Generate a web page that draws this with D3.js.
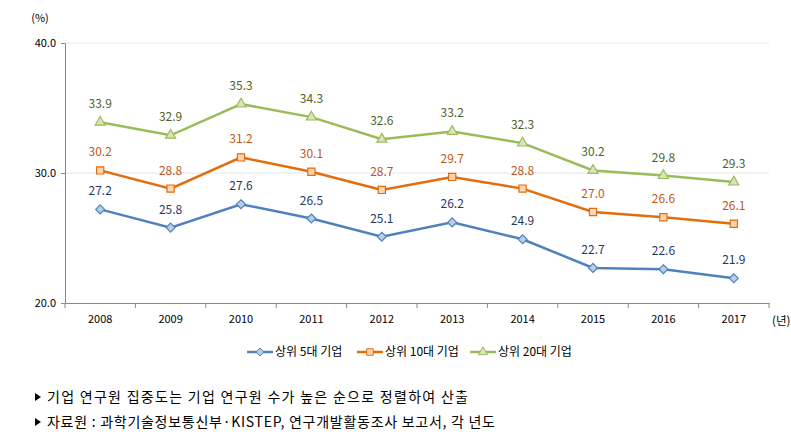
<!DOCTYPE html>
<html><head><meta charset="utf-8">
<script src="https://cdn.jsdelivr.net/npm/d3@7"></script>
<style>body{margin:0;background:#fff;} svg{display:block;font-family:"Noto Sans CJK KR","Malgun Gothic",sans-serif;}</style>
</head><body><svg id="c" width="791" height="447"></svg>
<script>
const years = ["2008","2009","2010","2011","2012","2013","2014","2015","2016","2017"];
const top5 = [27.2,25.8,27.6,26.5,25.1,26.2,24.9,22.7,22.6,21.9];
const top10 = [30.2,28.8,31.2,30.1,28.7,29.7,28.8,27.0,26.6,26.1];
const top20 = [33.9,32.9,35.3,34.3,32.6,33.2,32.3,30.2,29.8,29.3];
const seriesNames = ["상위 5대 기업","상위 10대 기업","상위 20대 기업"];
const yTicks = [20,30,40];
const notes = ["기업 연구원 집중도는 기업 연구원 수가 높은 순으로 정렬하여 산출","자료원 : 과학기술정보통신부·KISTEP, 연구개발활동조사 보고서, 각 년도"];

const svg = d3.select("#c");
const L=65,R=769,T=43,B=303;
const x = d3.scaleBand().domain(years).range([L,R]);
const y = d3.scaleLinear().domain([20,40]).range([B,T]);

// square diamond symbol
const squareDiamond = {draw(ctx,size){const r=Math.sqrt(size/2);ctx.moveTo(0,-r);ctx.lineTo(r,0);ctx.lineTo(0,r);ctx.lineTo(-r,0);ctx.closePath();}};

// grid
svg.append("g").selectAll("line").data(yTicks.slice(1)).join("line")
  .attr("x1",L).attr("x2",R).attr("y1",d=>y(d)).attr("y2",d=>y(d))
  .attr("stroke","#e6e6e6").attr("stroke-width",1);

const yAxis = svg.append("g").attr("transform",`translate(${L},0)`)
  .call(d3.axisLeft(y).tickValues(yTicks).tickFormat(d3.format(".1f")).tickSize(4).tickSizeOuter(0));
yAxis.select(".domain").attr("stroke","#888");
yAxis.selectAll(".tick line").attr("stroke","#888");
yAxis.selectAll("text").attr("font-size",11).attr("fill","#000").attr("font-family","Noto Sans CJK KR").attr("dx","-2");

const xAxis = svg.append("g").attr("transform",`translate(0,${B})`)
  .call(d3.axisBottom(x).tickSize(0).tickSizeOuter(0));
xAxis.select(".domain").attr("stroke","#888");
xAxis.selectAll("text").attr("font-size",11).attr("fill","#000").attr("dy","1.55em").attr("font-family","Noto Sans CJK KR");
// boundary ticks
const bounds = years.map(d=>x(d)).concat([R]);
svg.append("g").selectAll("line").data(bounds).join("line")
  .attr("x1",d=>d).attr("x2",d=>d).attr("y1",B).attr("y2",B+5).attr("stroke","#888");

svg.append("text").attr("x",40).attr("y",22).attr("font-size",11).text("(%)").attr("text-anchor","middle");
svg.append("text").attr("x",R+3).attr("y",325).attr("font-size",11.5).text("(년)");

const cx = d=>x(d)+x.bandwidth()/2;
const series = [
  {name:seriesNames[0],vals:top5,color:"#4F81BD",fill:"#B9CDE5",lab:"#1F3864",sym:squareDiamond,size:40},
  {name:seriesNames[1],vals:top10,color:"#E46C0A",fill:"#FCD5B5",lab:"#C0571A",sym:d3.symbolSquare,size:52},
  {name:seriesNames[2],vals:top20,color:"#9BBB59",fill:"#D7E4BD",lab:"#4F6228",sym:d3.symbolTriangle,size:44}
];
const line = d3.line().x((d,i)=>cx(years[i])).y(d=>y(d));
series.forEach(s=>{
  svg.append("path").datum(s.vals).attr("d",line).attr("fill","none").attr("stroke",s.color).attr("stroke-width",2.5);
  svg.append("g").selectAll("path").data(s.vals).join("path")
    .attr("d",d3.symbol().type(s.sym).size(s.size))
    .attr("transform",(d,i)=>`translate(${cx(years[i])},${y(d)})`)
    .attr("fill",s.fill).attr("stroke",s.color).attr("stroke-width",1.2);
  svg.append("g").selectAll("text").data(s.vals).join("text")
    .attr("x",(d,i)=>cx(years[i])).attr("y",d=>y(d)-14)
    .attr("text-anchor","middle").attr("font-size",12).attr("fill",s.lab)
    .text(d=>d.toFixed(1));
});

// legend
const lx=[247,357,470];
series.forEach((s,i)=>{
  const g = svg.append("g").attr("transform",`translate(${lx[i]},352)`);
  g.append("line").attr("x1",0).attr("x2",26).attr("stroke",s.color).attr("stroke-width",2.5);
  g.append("path").attr("d",d3.symbol().type(s.sym).size(s.size*0.8)).attr("transform","translate(13,0)")
    .attr("fill",s.fill).attr("stroke",s.color).attr("stroke-width",1);
  g.append("text").attr("x",28).attr("y",4).attr("font-size",12).attr("fill","#000").text(s.name);
});

// notes
const noteLen=[421,448];
notes.forEach((n,i)=>{
  const yy = 397+i*25;
  svg.append("path").attr("d","M0,-4 L6,0 L0,4 Z").attr("transform",`translate(35,${yy})`).attr("fill","#000");
  svg.append("text").attr("x",47).attr("y",yy+5).attr("font-size",14).attr("fill","#000")
    .attr("textLength",noteLen[i]).attr("lengthAdjust","spacing").text(n);
});
</script></body></html>
